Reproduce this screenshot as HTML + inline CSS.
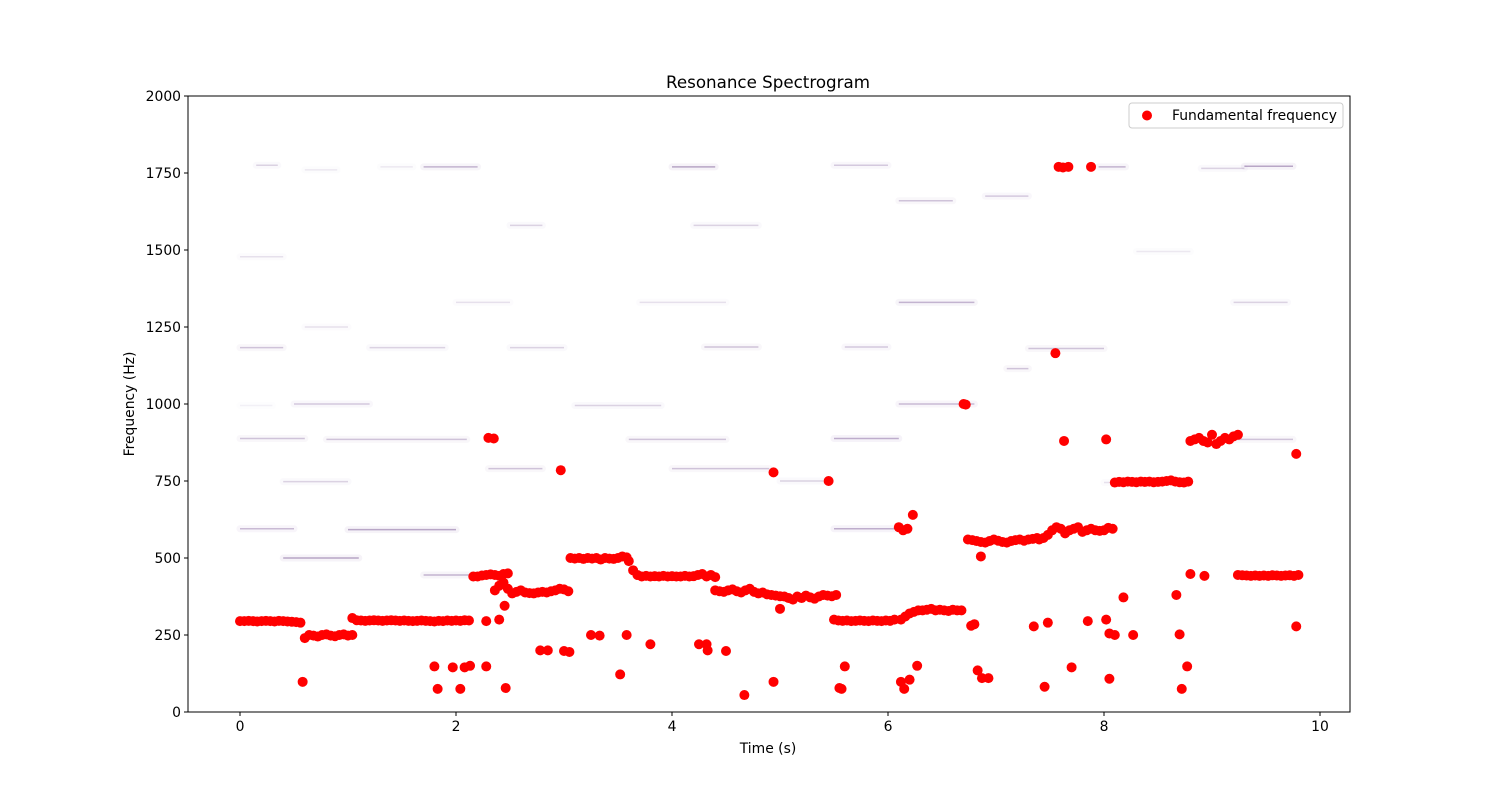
<!DOCTYPE html>
<html><head><meta charset="utf-8"><style>
body{margin:0;background:#fff;}
svg text{font-family:"DejaVu Sans","Liberation Sans",sans-serif;fill:#000;}
</style></head><body>
<svg id="chart" width="1500" height="800">
<rect width="1500" height="800" fill="#fff"/>
<text x="768" y="88" font-size="16.7" text-anchor="middle">Resonance Spectrogram</text>
<g id="streaks"></g>
<g id="dots"></g>
<rect x="188" y="96" width="1162" height="616" fill="none" stroke="#000" stroke-width="1"/>
<g id="axes"></g>
<text x="768" y="753" font-size="13.9" text-anchor="middle">Time (s)</text>
<text x="0" y="0" font-size="13.9" text-anchor="middle" transform="translate(134,404) rotate(-90)">Frequency (Hz)</text>
<g>
<rect x="1129" y="103" width="214" height="25" rx="3" fill="#fff" stroke="#ccc"/>
<circle cx="1147" cy="115.5" r="5" fill="#ff0000"/>
<text x="1172" y="120" font-size="13.9">Fundamental frequency</text>
</g>
</svg>
<script>
const xTicks=[0,2,4,6,8,10];
const yTicks=[0,250,500,750,1000,1250,1500,1750,2000];
const segStarts=[0.0,0.6,1.04,2.16,2.36,3.06,3.6,4.4,5.5,6.1,6.12,6.74,7.4,8.1,8.8,9.24];
const segStep=0.04;
const segFreqs=[
[295,295,296,295,294,295,296,295,294,296,295,294,293,292,290],
[240,250,248,245,250,252,248,246,250,252,248,250],
[305,298,297,296,297,298,297,296,297,298,297,296,297,296,295,296,297,296,295,294,296,295,297,296,297,296,298,297],
[440,440,443,445,447,445,442,448,450],
[395,410,420,400,385,390,395,388,386,385,388,390,388,392,395,400,398,392],
[500,498,500,497,500,498,500,495,500,498,497,500,505,502],
[490,460,445,440,442,440,441,440,442,440,441,440,440,442,440,441,445,448,440,445,438],
[395,392,390,395,398,392,388,395,400,390,385,388,382,380,378,376,375,370,365,375,370,378,372,368,375,380,378,376,380],
[300,297,296,297,295,296,297,296,295,297,296,295,297,296,300],
[600,590,595],
[300,310,320,325,330,330,332,335,330,332,330,328,332,330,330],
[560,558,555,552,550,555,560,556,552,550,555,558,560,556,560,562,565],
[560,565,575,590,600,595,580,590,595,600,585,590,595,590,588,590,598,595],
[745,747,746,748,747,746,748,747,748,746,747,748,750,752,748,746,745,748],
[880,885,890,880,875,900,870,880,890,885,895,900],
[445,444,443,442,443,442,443,442,444,443,442,443,444,442]
];
const scatterT=[0.58,1.8,1.83,1.97,2.04,2.08,2.13,2.28,2.3,2.35,2.28,2.4,2.45,2.46,2.78,2.85,2.97,3.0,3.05,3.25,3.33,3.52,3.58,3.8,4.25,4.32,4.33,4.5,4.67,4.94,4.94,5.0,5.45,5.55,5.57,5.6,6.12,6.15,6.2,6.23,6.27,6.7,6.72,6.77,6.8,6.83,6.87,6.93,6.86,7.35,7.45,7.48,7.55,7.58,7.62,7.67,7.88,7.63,7.7,7.85,8.02,8.02,8.05,8.05,8.1,8.18,8.27,8.67,8.7,8.72,8.77,8.8,8.93,9.78,9.78,9.8];
const scatterF=[98,148,75,145,75,145,150,148,890,888,295,300,345,78,200,200,785,198,195,250,248,122,250,220,220,220,200,198,55,98,778,335,750,78,75,148,98,75,105,640,150,1000,998,280,285,135,110,110,505,278,82,290,1165,1770,1768,1770,1770,880,145,295,300,885,108,255,250,372,250,380,252,75,148,448,442,838,278,445];
const streakT0=[0.15,0.6,1.3,1.7,4.0,5.5,7.95,8.9,9.3,6.1,6.9,2.5,4.2,0.0,8.3,2.0,3.7,6.1,9.2,0.6,0.0,1.2,2.5,4.3,5.6,7.3,7.1,0.0,0.5,3.1,6.1,0.0,0.8,3.6,5.5,9.2,2.3,4.0,5.0,0.4,8.0,0.0,1.0,5.5,0.4,3.1,1.7];
const streakT1=[0.35,0.9,1.6,2.2,4.4,6.0,8.2,9.3,9.75,6.6,7.3,2.8,4.8,0.4,8.8,2.5,4.5,6.8,9.7,1.0,0.4,1.9,3.0,4.8,6.0,8.0,7.3,0.3,1.2,3.9,6.8,0.6,2.1,4.5,6.1,9.75,2.8,4.9,5.4,1.0,8.6,0.5,2.0,6.1,1.1,3.6,2.2];
const streakF=[1775,1760,1770,1770,1770,1775,1770,1765,1772,1660,1675,1580,1580,1478,1495,1330,1330,1330,1330,1250,1183,1183,1183,1185,1185,1180,1115,995,1000,995,1000,888,885,885,888,885,790,790,750,748,745,595,592,595,500,498,445];
const streakA=[.3,.15,.15,.5,.6,.35,.5,.3,.6,.4,.35,.3,.3,.2,.15,.2,.2,.5,.3,.2,.4,.3,.3,.4,.35,.4,.4,.1,.35,.3,.45,.4,.4,.4,.55,.4,.4,.4,.3,.3,.2,.45,.6,.55,.6,.3,.5];

const X0=188,X1=1350,Y0=712,Y1=96;
function xs(t){return 240+t*108;}
function ys(f){return Y0-(f/2000)*(Y0-Y1);}
const NS="http://www.w3.org/2000/svg";
function mk(tag,attrs,parent){const e=document.createElementNS(NS,tag);for(const k in attrs)e.setAttribute(k,attrs[k]);parent.appendChild(e);return e;}

const axes=document.getElementById('axes');
xTicks.forEach(t=>{
  const l=mk('line',{x1:xs(t),x2:xs(t),y1:Y0,y2:Y0+4,stroke:'#000'},axes);
  
  
  const tx=mk('text',{x:xs(t),y:Y0+19,'font-size':13.9,'text-anchor':'middle'},axes);
  tx.textContent=t;
  
  
});
yTicks.forEach(f=>{
  const l=mk('line',{x1:X0-4,x2:X0,y1:ys(f),y2:ys(f),stroke:'#000'},axes);
  
  
  const tx=mk('text',{x:X0-7,y:ys(f)+5,'font-size':13.9,'text-anchor':'end'},axes);
  tx.textContent=f;
  
  
});

const sg=document.getElementById('streaks');
streakF.forEach((f,i)=>{
  const a=streakA[i];
  const h=mk('line',{x1:xs(streakT0[i]),x2:xs(streakT1[i]),y1:ys(f),y2:ys(f),stroke:'#7a4f9e','stroke-width':7,'stroke-opacity':a*0.12,'stroke-linecap':'round'},sg);
  
  
  const l=mk('line',{x1:xs(streakT0[i]),x2:xs(streakT1[i]),y1:ys(f),y2:ys(f),stroke:'#4b1f70','stroke-width':1.5,'stroke-opacity':a*0.6},sg);
  
  
});

const dg=document.getElementById('dots');
segFreqs.forEach((arr,s)=>{
  arr.forEach((f,i)=>{
    const c=mk('circle',{cx:xs(segStarts[s]+i*segStep),cy:ys(f),r:5,fill:'#ff0000'},dg);
    
    
  });
});
scatterF.forEach((f,i)=>{
  const c=mk('circle',{cx:xs(scatterT[i]),cy:ys(f),r:5,fill:'#ff0000'},dg);
  
  
});
</script>
</body></html>
